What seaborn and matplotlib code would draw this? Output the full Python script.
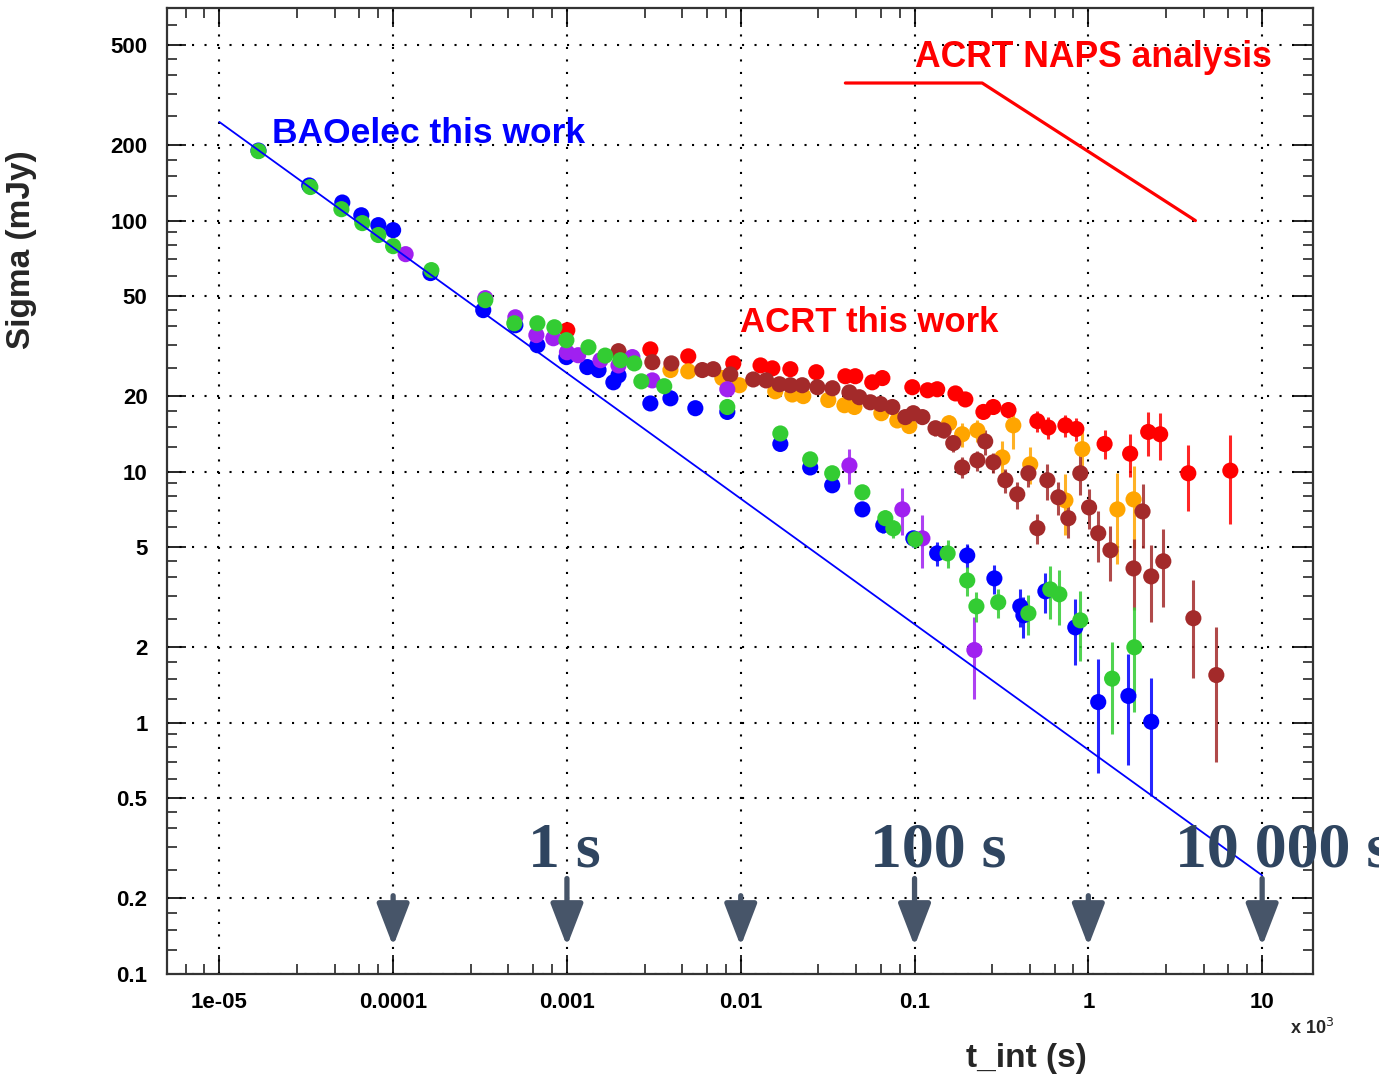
import matplotlib
matplotlib.use("Agg")
import matplotlib.pyplot as plt
import pandas as pd
import seaborn as sns
from matplotlib.ticker import FixedLocator, FixedFormatter, NullFormatter

# t_int en unités de 10^3 s, sigma en mJy, err = demi-barre d'erreur
blue_t = [1.68e-5, 3.29e-5, 5.10e-5, 6.56e-5, 8.22e-5, 1.0e-4, 1.64e-4, 3.30e-4,
          5.05e-4, 6.76e-4, 9.93e-4, 1.31e-3, 1.52e-3, 1.85e-3, 1.98e-3, 3.02e-3,
          3.94e-3, 5.48e-3, 8.37e-3, 1.69e-2, 2.51e-2, 3.36e-2, 5.01e-2, 6.61e-2,
          9.84e-2, 0.135, 0.201, 0.288, 0.406, 0.423, 0.566, 0.841, 1.14, 1.70, 2.30]
blue_s = [190, 138, 118, 105, 95.9, 91.6, 61.8, 44.0,
          38.3, 31.9, 28.6, 26.1, 25.4, 22.7, 24.2, 18.7,
          19.6, 17.9, 17.3, 12.9, 10.4, 8.83, 7.08, 6.12,
          5.43, 4.73, 4.64, 3.76, 2.91, 2.68, 3.34, 2.40, 1.21, 1.28, 1.01]
blue_e = [3, 2, 2, 2, 2, 2, 1.5, 1,
          1, 1, 1, 1, 1, 1, 1, 0.8,
          0.8, 0.8, 0.8, 0.6, 0.5, 0.5, 0.4, 0.4,
          0.4, 0.5, 0.5, 0.5, 0.5, 0.5, 0.6, 0.7, 0.58, 0.6, 0.5]

green_t = [1.68e-5, 3.34e-5, 5.04e-5, 6.65e-5, 8.22e-5, 1.0e-4, 1.66e-4, 3.39e-4,
           4.98e-4, 6.76e-4, 8.47e-4, 9.93e-4, 1.33e-3, 1.66e-3, 2.03e-3, 2.44e-3,
           2.68e-3, 3.63e-3, 8.37e-3, 1.69e-2, 2.51e-2, 3.36e-2, 5.01e-2, 6.79e-2,
           7.55e-2, 0.101, 0.155, 0.201, 0.227, 0.303, 0.452, 0.604, 0.681, 0.899,
           1.37, 1.84]
green_s = [189, 136, 111, 97.7, 87.6, 79.1, 63.5, 48.2,
           39.0, 39.0, 37.6, 33.4, 31.3, 29.0, 27.8, 27.0,
           22.9, 21.9, 18.1, 14.2, 11.2, 9.86, 8.28, 6.53,
           5.95, 5.38, 4.73, 3.69, 2.91, 3.02, 2.73, 3.40, 3.25, 2.56,
           1.50, 2.00]
green_e = [3, 2, 2, 2, 2, 2, 1.5, 1,
           1, 1, 1, 1, 1, 1, 1, 1,
           0.8, 0.8, 0.8, 1.0, 0.6, 0.5, 0.5, 0.5,
           0.5, 0.4, 0.6, 0.5, 0.4, 0.4, 0.5, 0.8, 0.8, 0.8,
           0.6, 0.9]

purple_t = [1.18e-4, 3.39e-4, 5.05e-4, 6.67e-4, 8.35e-4, 1.00e-3, 1.16e-3, 1.56e-3,
            1.98e-3, 2.38e-3, 3.10e-3, 8.37e-3, 4.22e-2, 8.51e-2, 0.111, 0.221]
purple_s = [73.5, 49.1, 41.2, 35.0, 34.0, 29.9, 29.1, 27.8,
            26.5, 28.6, 23.1, 21.3, 10.6, 7.08, 5.43, 1.95]
purple_e = [1.5, 1, 1, 1, 1, 1, 1, 1,
            1, 1, 1, 1, 1.7, 1.5, 1.3, 0.7]

red_t = [1.005e-3, 3.02e-3, 4.99e-3, 9.06e-3, 1.30e-2, 1.52e-2, 1.93e-2, 2.72e-2,
         4.00e-2, 4.56e-2, 5.71e-2, 6.53e-2, 9.71e-2, 0.119, 0.135, 0.172,
         0.196, 0.249, 0.284, 0.347, 0.509, 0.589, 0.738, 0.853,
         1.24, 1.74, 2.21, 2.59, 3.76, 6.56]
red_s = [36.6, 30.7, 28.8, 27.0, 26.5, 25.8, 25.6, 24.9,
         24.0, 24.0, 22.7, 23.6, 21.7, 21.1, 21.3, 20.5,
         19.4, 17.3, 18.1, 17.6, 15.9, 15.0, 15.3, 14.8,
         12.9, 11.8, 14.4, 14.1, 9.86, 10.1]
red_e = [1, 1, 1, 1, 1, 1, 1, 1,
         1, 1, 1, 1, 1, 1, 1, 1,
         1, 1, 1, 1.2, 1.5, 1.5, 1.5, 1.5,
         1.7, 2.3, 2.9, 3.0, 2.9, 3.9]

orange_t = [3.94e-3, 4.99e-3, 7.84e-3, 9.82e-3, 1.58e-2, 1.98e-2, 2.29e-2, 3.19e-2,
            3.95e-2, 4.51e-2, 6.44e-2, 7.96e-2, 9.33e-2, 0.158, 0.188, 0.230,
            0.320, 0.370, 0.463, 0.738, 0.923, 1.47, 1.82]
orange_s = [25.4, 25.1, 23.6, 22.1, 20.9, 20.3, 20.0, 19.3,
            18.4, 18.1, 17.1, 16.0, 15.2, 15.6, 14.1, 14.6,
            11.4, 15.3, 10.7, 7.69, 12.3, 7.08, 7.76]
orange_e = [1, 1, 1, 1, 1, 1, 1, 1,
            1, 1, 1, 1, 1, 1.2, 1.5, 1.5,
            1.8, 3, 1.8, 2.1, 3, 2.8, 2.8]

brown_t = [1.98e-3, 3.10e-3, 3.99e-3, 6.01e-3, 6.95e-3, 8.71e-3, 1.18e-2, 1.40e-2,
           1.67e-2, 1.93e-2, 2.26e-2, 2.76e-2, 3.37e-2, 4.22e-2, 4.81e-2, 5.57e-2,
           6.36e-2, 7.45e-2, 8.85e-2, 9.84e-2, 0.111, 0.132, 0.147, 0.167,
           0.188, 0.230, 0.255, 0.284, 0.333, 0.390, 0.452, 0.509,
           0.581, 0.672, 0.767, 0.899, 1.01, 1.14, 1.34, 1.82,
           2.05, 2.30, 2.70, 4.02, 5.45]
brown_s = [30.2, 27.3, 27.0, 25.4, 25.6, 24.4, 23.3, 23.1,
           22.3, 22.1, 22.1, 21.7, 21.5, 20.7, 19.8, 18.9,
           18.6, 18.1, 16.5, 17.1, 16.5, 14.9, 14.6, 13.0,
           10.4, 11.1, 13.2, 10.9, 9.25, 8.13, 9.86, 5.96,
           9.25, 7.91, 6.53, 9.86, 7.21, 5.69, 4.87, 4.12,
           6.95, 3.83, 4.40, 2.61, 1.55]
brown_e = [1, 1, 1, 1, 1, 1, 1, 1,
           1, 1, 1, 1, 1, 1, 1, 1,
           1, 1, 1, 1, 1, 1, 1, 1,
           1, 1, 1.5, 1, 1, 1, 1.2, 0.8,
           1.5, 1.2, 1.1, 1.8, 1.3, 1.3, 1.2, 1.3,
           2.0, 1.3, 1.5, 1.1, 0.85]

# droite radiomètre BAOelec et courbe NAPS
bao_line_t = [1e-5, 10]
bao_line_s = [247, 0.247]
naps_t = [0.04, 0.245, 4.13]
naps_s = [353, 353, 100]

y_ticks = [0.1, 0.2, 0.5, 1, 2, 5, 10, 20, 50, 100, 200, 500]
y_labels = ["0.1", "0.2", "0.5", "1", "2", "5", "10", "20", "50", "100", "200", "500"]
x_ticks = [1e-5, 1e-4, 1e-3, 1e-2, 1e-1, 1, 10]
x_labels = ["1e-05", "0.0001", "0.001", "0.01", "0.1", "1", "10"]

arrow_t = [1e-4, 1e-3, 1e-2, 1e-1, 1, 10]
arrow_start = [0.205, 0.240, 0.205, 0.240, 0.205, 0.240]
arrow_tip = 0.129

# ordre de tracé : les derniers passent au-dessus
series = [
    ("ACRT", red_t, red_s, red_e, "#ff0000"),
    ("ACRT2", orange_t, orange_s, orange_e, "#ffa500"),
    ("ACRT3", brown_t, brown_s, brown_e, "#a32a2a"),
    ("BAO", blue_t, blue_s, blue_e, "#0000ff"),
    ("BAO2", purple_t, purple_s, purple_e, "#a020f0"),
    ("BAO3", green_t, green_s, green_e, "#33cc33"),
]

sns.set_theme(style="white")
plt.rcParams["font.family"] = ["Liberation Sans", "DejaVu Sans"]

fig = plt.figure(figsize=(13.79, 10.85), dpi=100)
ax = fig.add_axes([0.1211, 0.1023, 0.831, 0.8903])
ax.set_xscale("log")
ax.set_yscale("log")

for name, t, s, e, c in series:
    ax.errorbar(t, s, yerr=e, fmt="none", ecolor=c, elinewidth=2.2,
                capsize=0, alpha=0.85, zorder=2)

df = pd.concat([pd.DataFrame({"t": t, "sigma": s, "serie": name})
                for name, t, s, e, c in series], ignore_index=True)
palette = {name: c for name, t, s, e, c in series}
sns.scatterplot(data=df, x="t", y="sigma", hue="serie", palette=palette,
                s=135, linewidth=0, legend=False, ax=ax, zorder=3)

sns.lineplot(x=bao_line_t, y=bao_line_s, color="#0000ff", lw=1.3,
             estimator=None, sort=False, ax=ax, zorder=4)
sns.lineplot(x=naps_t, y=naps_s, color="#ff0000", lw=2.3,
             estimator=None, sort=False, ax=ax, zorder=4)

ax.set_xlim(5.0e-6, 19.6)
ax.set_ylim(0.1, 702)

# graduations secondaires façon ROOT : subdivisions linéaires entre graduations principales
x_minor = [d * (1 + 1.8 * k) for d in [1e-6, 1e-5, 1e-4, 1e-3, 1e-2, 1e-1, 1, 10]
           for k in range(1, 5)]
y_minor = []
for d in [0.1, 1, 10, 100]:
    y_minor += [d * v for v in [1.25, 1.5, 1.75, 2.6, 3.2, 3.8, 4.4, 6, 7, 8, 9]]
y_minor = [v for v in y_minor if v < 702]

ax.xaxis.set_major_locator(FixedLocator(x_ticks))
ax.xaxis.set_major_formatter(FixedFormatter(x_labels))
ax.yaxis.set_major_locator(FixedLocator(y_ticks))
ax.yaxis.set_major_formatter(FixedFormatter(y_labels))
ax.xaxis.set_minor_locator(FixedLocator(x_minor))
ax.yaxis.set_minor_locator(FixedLocator(y_minor))
ax.xaxis.set_minor_formatter(NullFormatter())
ax.yaxis.set_minor_formatter(NullFormatter())

ax.tick_params(which="major", direction="in", length=14, width=1.2,
               top=True, right=True, bottom=True, left=True,
               labelsize=16, colors="black")
ax.tick_params(which="minor", direction="in", length=7, width=1.2,
               top=True, right=True, bottom=True, left=True)
ax.tick_params(axis="x", which="major", pad=13)
ax.tick_params(axis="y", which="major", pad=14)
for lab in ax.get_xticklabels() + ax.get_yticklabels():
    lab.set_fontweight("bold")

ax.grid(True, which="major", color="black", linestyle=(0, (1, 5)), linewidth=1.5)
for sp in ax.spines.values():
    sp.set_color("#333333")
    sp.set_linewidth(1.6)

ax.set_xlabel("t_int (s)", fontsize=24, fontweight="bold")
ax.set_ylabel("Sigma (mJy)", fontsize=24, fontweight="bold")
ax.xaxis.set_label_coords(0.75, -0.087)
ax.xaxis.label.set_va("center")
ax.yaxis.set_label_coords(-0.127, 0.75)
ax.yaxis.label.set_va("center")
ax.text(0.999, -0.056, r"x 10$^{3}$", transform=ax.transAxes, fontsize=13,
        fontweight="bold", ha="center", va="center")

ax.text(2.02e-5, 223, "BAOelec this work", color="#0000ff", fontsize=25.5,
        fontweight="bold", ha="left", va="center")
ax.text(9.95e-3, 39.4, "ACRT this work", color="#ff0000", fontsize=25,
        fontweight="bold", ha="left", va="center")
ax.text(0.101, 448, "ACRT NAPS analysis", color="#ff0000", fontsize=25.6,
        fontweight="bold", ha="left", va="center")

serif = ["Liberation Serif", "DejaVu Serif"]
for txt, xt in [("1 s", 6.0e-4), ("100 s", 5.57e-2), ("10 000 s", 3.17)]:
    ax.text(xt, 0.268, txt, color="#2f4560", fontsize=46, family=serif,
            fontweight="bold", ha="left", va="baseline", clip_on=False, zorder=6)

for xt, ys in zip(arrow_t, arrow_start):
    ax.annotate("", xy=(xt, arrow_tip), xytext=(xt, ys),
                arrowprops=dict(arrowstyle="-|>,head_length=1.3,head_width=0.5",
                                color="#475569", lw=3.8, mutation_scale=20,
                                shrinkA=0, shrinkB=0), zorder=6)

fig.savefig("out.png", dpi=100)
